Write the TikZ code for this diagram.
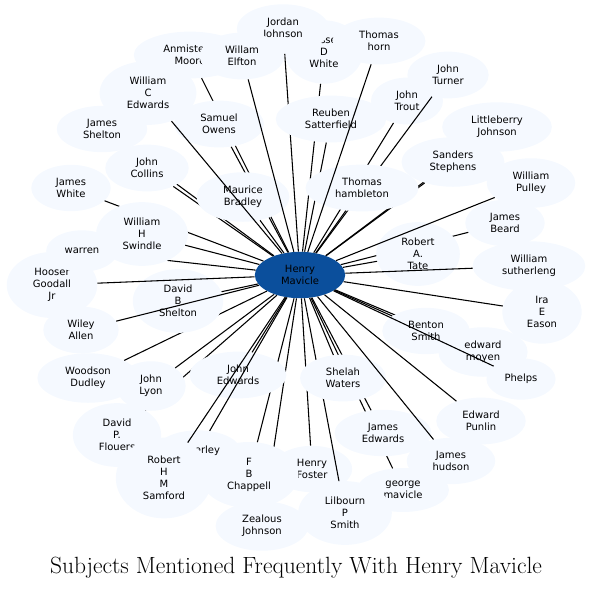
\documentclass[tikz,border=0pt]{standalone}
\usepackage{fontspec}
\usepackage{xcolor}
\usepackage{tikz}
\usetikzlibrary{shapes.geometric}
\newfontfamily\nodefont{DejaVu Sans}
\definecolor{nodefill}{RGB}{245,249,255}
\definecolor{hubfill}{HTML}{0B4F9C}

\begin{document}
\begin{tikzpicture}[x=0.75pt,y=-0.75pt,
    nd/.style={ellipse,fill=nodefill,inner xsep=9.75pt,inner ysep=5pt,align=center,
      font=\nodefont\fontsize{7.5}{9}\selectfont},
    one/.style={nd,inner xsep=6pt,minimum height=31pt},
    hub/.style={nd,fill=hubfill},
    edge/.style={line width=0.8pt}]
  \useasboundingbox (0,0) rectangle (593,590);
  \node[hub] (hm) at (300,275) {Henry\\Mavicle};
  % each name, then its link to the hub
  \node[nd] (jesse) at (324,52) {Jesse\\D\\White};
  \draw[edge] (hm) -- (jesse);
  \node[nd] (jordan) at (283,29) {Jordan\\Johnson};
  \draw[edge] (hm) -- (jordan);
  \node[nd] (anmistead) at (190,55) {Anmistead\\Moore};
  \draw[edge] (hm) -- (anmistead);
  \node[nd] (samuel) at (219,124) {Samuel\\Owens};
  \draw[edge] (hm) -- (samuel);
  \node[nd] (jshelton) at (102,129) {James\\Shelton};
  \draw[edge] (hm) -- (jshelton);
  \node[nd] (collins) at (147,168) {John\\Collins};
  \draw[edge] (hm) -- (collins);
  \node[nd] (jwhite) at (71,188) {James\\White};
  \draw[edge] (hm) -- (jwhite);
  \node[nd] (maurice) at (243,197) {Maurice\\Bradley};
  \draw[edge] (hm) -- (maurice);
  \node[nd] (elfton) at (242,56) {Willam\\Elfton};
  \draw[edge] (hm) -- (elfton);
  \node[nd] (wcedwards) at (148,93) {William\\C\\Edwards};
  \draw[edge] (hm) -- (wcedwards);
  \node[nd] (trout) at (407,101) {John\\Trout};
  \draw[edge] (hm) -- (trout);
  \node[nd] (turner) at (448,75) {John\\Turner};
  \draw[edge] (hm) -- (turner);
  \node[nd] (reuben) at (331,119) {Reuben\\Satterfield};
  \draw[edge] (hm) -- (reuben);
  \node[nd] (littleberry) at (497,127) {Littleberry\\Johnson};
  \draw[edge] (hm) -- (littleberry);
  \node[nd] (sanders) at (453,162) {Sanders\\Stephens};
  \draw[edge] (hm) -- (sanders);
  \node[nd] (hambleton) at (362,188) {Thomas\\hambleton};
  \draw[edge] (hm) -- (hambleton);
  \node[nd] (horn) at (379,41) {Thomas\\horn};
  \draw[edge] (hm) -- (horn);
  \node[nd] (beard) at (505,223) {James\\Beard};
  \draw[edge] (hm) -- (beard);
  \node[nd] (tate) at (418,254) {Robert\\A.\\Tate};
  \draw[edge] (hm) -- (tate);
  \node[nd] (pulley) at (531,183) {William\\Pulley};
  \draw[edge] (hm) -- (pulley);
  \node[nd] (sutherleng) at (529,266) {William\\sutherleng};
  \draw[edge] (hm) -- (sutherleng);
  \node[nd] (eason) at (542,312) {Ira\\E\\Eason};
  \draw[edge] (hm) -- (eason);
  \node[nd] (moyen) at (483,352) {edward\\moyen};
  \draw[edge] (hm) -- (moyen);
  \node[nd] (benton) at (426,331) {Benton\\Smith};
  \draw[edge] (hm) -- (benton);
  \node[one] (phelps) at (521,379) {Phelps};
  \draw[edge] (hm) -- (phelps);
  \node[nd] (punlin) at (481,421) {Edward\\Punlin};
  \draw[edge] (hm) -- (punlin);
  \node[nd] (george) at (403,490) {george\\mavicle};
  \draw[edge] (hm) -- (george);
  \node[nd] (foster) at (312,469) {Henry\\Foster};
  \draw[edge] (hm) -- (foster);
  \node[nd] (lilbourn) at (345,513) {Lilbourn\\P\\Smith};
  \draw[edge] (hm) -- (lilbourn);
  \node[nd] (jedwards) at (383,433) {James\\Edwards};
  \draw[edge] (hm) -- (jedwards);
  \node[nd] (shelah) at (343,378) {Shelah\\Waters};
  \draw[edge] (hm) -- (shelah);
  \node[nd] (hudson) at (451,461) {James\\hudson};
  \draw[edge] (hm) -- (hudson);
  \node[nd] (zealous) at (262,526) {Zealous\\Johnson};
  \draw[edge] (hm) -- (zealous);
  \node[nd] (chappell) at (249,475) {F\\B\\Chappell};
  \draw[edge] (hm) -- (chappell);
  \node[nd] (flouers) at (117,435) {David\\P.\\Flouers};
  \draw[edge] (hm) -- (flouers);
  \node[nd] (lyon) at (151,386) {John\\Lyon};
  \draw[edge] (hm) -- (lyon);
  \node[nd] (woodson) at (88,378) {Woodson\\Dudley};
  \draw[edge] (hm) -- (woodson);
  \node[nd] (jnedwards) at (238,375) {John\\Edwards};
  \draw[edge] (hm) -- (jnedwards);
  \node[one] (beverley) at (198,451) {Beverley};
  \draw[edge] (hm) -- (beverley);
  \node[nd] (samford) at (164,478) {Robert\\H\\M\\Samford};
  \draw[edge] (hm) -- (samford);
  \node[nd] (dbshelton) at (178,301) {David\\B\\Shelton};
  \draw[edge] (hm) -- (dbshelton);
  \node[nd] (hooser) at (52,285) {Hooser\\Goodall\\Jr};
  \draw[edge] (hm) -- (hooser);
  \node[one] (warren) at (82,251) {warren};
  \draw[edge] (hm) -- (warren);
  \node[nd] (swindle) at (142,234) {William\\H\\Swindle};
  \draw[edge] (hm) -- (swindle);
  \node[nd] (wiley) at (81,330) {Wiley\\Allen};
  \draw[edge] (hm) -- (wiley);
  \node[font=\fontsize{17.6}{21}\selectfont] (title) at (296,568) {Subjects Mentioned Frequently With Henry Mavicle};
\end{tikzpicture}
\end{document}
